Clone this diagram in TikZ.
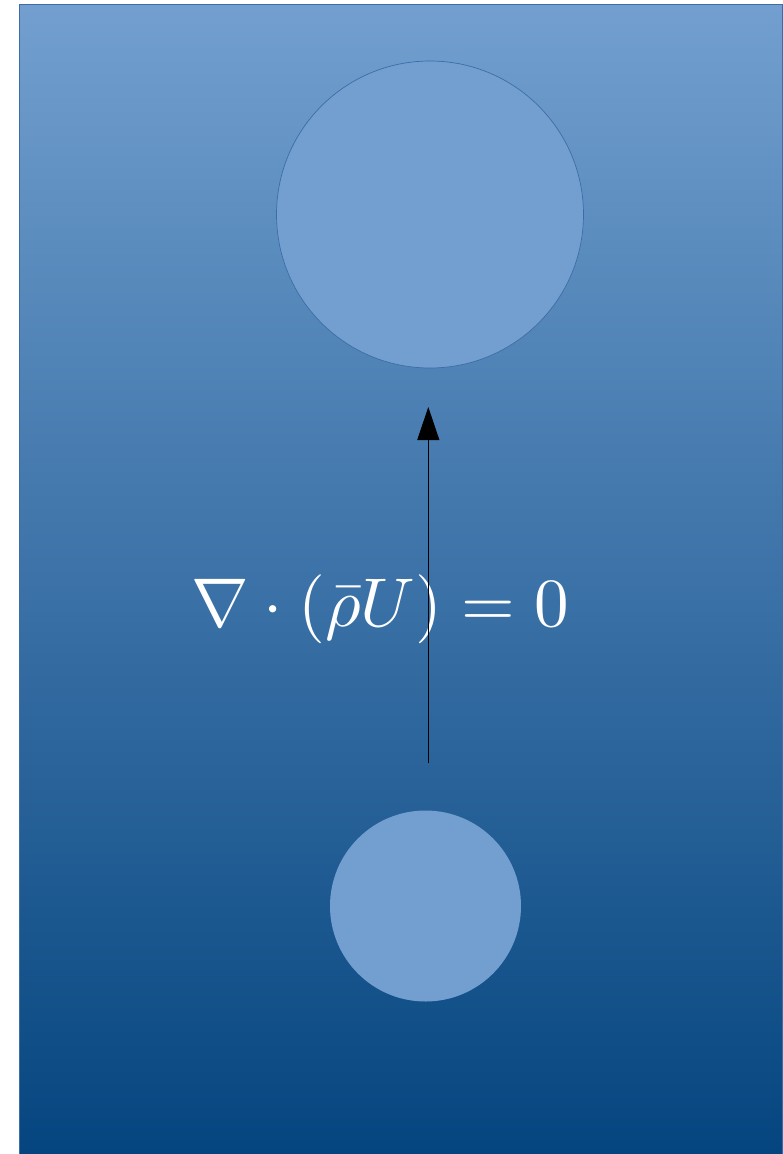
\documentclass[tikz,border=0pt]{standalone}
\usepackage{amsmath,amssymb}
\usepackage{xcolor}
\usepackage{tikz}
\usetikzlibrary{arrows.meta, positioning}

\definecolor{skytop}{HTML}{729FCF}
\definecolor{skybot}{HTML}{05457F}
\definecolor{rimblue}{HTML}{3D6DA8}
\definecolor{blobfill}{HTML}{729FCF}

\begin{document}
\begin{tikzpicture}[
  x=1pt, y=-1pt,
  blob/.style={circle, fill=blobfill, inner sep=0pt},
  flow/.style={-{Triangle[length=33pt, width=22pt]}, line width=1pt, black},
  eqn/.style={text=white, scale=6.9, inner sep=0pt}
]
\useasboundingbox (0,0) rectangle (782,1154);

% Background panel with vertical gradient
\shade[top color=skytop, bottom color=skybot, draw=rimblue, line width=0.6pt]
  (19,4) rectangle (782,1154);

% Upper and lower circles
\node[blob, draw=rimblue, line width=0.7pt, minimum size=307pt] (upper) at (430,214.5) {};
\node[blob, minimum size=191pt] (lower) at (425.5,906) {};

% Arrow endpoints in the gap between the circles
\coordinate (src) at (428.3,763);
\coordinate (dst) at (428.3,407);

% Equation
\node[eqn] (cont) at (380,609) {$\nabla\cdot(\bar{\rho}U)=0$};

% Flow arrow
\draw[flow] (src) -- (dst);

\end{tikzpicture}
\end{document}
